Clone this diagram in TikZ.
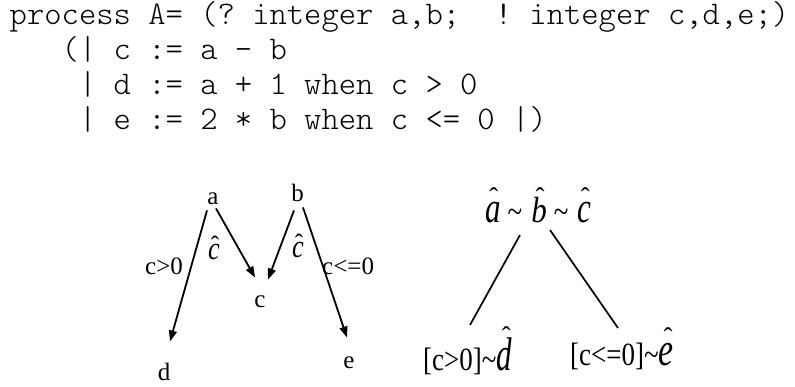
\documentclass[tikz,border=0pt]{standalone}
\usepackage{fontspec}
\setmainfont{Liberation Serif}
\usepackage{graphicx}
\usetikzlibrary{arrows.meta,calc}
% italic letter (scaled #5 wide, #4 tall) with a raised circumflex whose top is at #2, shifted by #3
\newcommand\hatit[5]{%
  \setbox0\hbox{\scalebox{#5}[#4]{\itshape #1}}%
  \setbox2\hbox{\upshape\char"02C6}%
  \leavevmode\rlap{\kern#3\hbox to\wd0{\hss\raisebox{\dimexpr#2-\ht2\relax}[0pt][0pt]{\copy2}\hss}}\copy0}
\newcommand\upst[1]{\scalebox{1}[1.2]{#1}}
\begin{document}
\begin{tikzpicture}[x=1pt,y=-1pt,
  code/.style={anchor=base west,inner sep=0pt,font=\fontsize{33}{40}\selectfont\ttfamily\fontseries{l}\selectfont\frenchspacing},
  lbl/.style={anchor=base,inner sep=0pt,font=\fontsize{25}{30}\selectfont},
  rt/.style={anchor=base west,inner sep=0pt,font=\fontsize{27}{32}\selectfont},
  arr/.style={-{Triangle[length=11pt,width=8pt]},line width=1.8pt},
  ln/.style={line width=1.7pt}]
\useasboundingbox (0,0) rectangle (795,387);
% code
\node[code] (l1) at (9.5,24.5) {process A= (? integer a,b;\ \ ! integer c,d,e;)};
\node[code] (l2) at (61.5,59.5) {(| c := a - b};
\node[code] (l3) at (78.8,94.5) {| d := a + 1 when c > 0};
\node[code] (l4) at (78.8,130) {| e := 2 * b when c <= 0 |)};
% left graph
\node[lbl] (a) at (213,205) {a};
\node[lbl] (b) at (297.5,202) {b};
\node[lbl] (c) at (260,308) {c};
\node[lbl] (d) at (164,380) {d};
\node[lbl] (e) at (349,368) {e};
\node[lbl,anchor=base west] (gt) at (145,275) {c>0};
\node[lbl] (h1) at (214,260) {\hatit{c}{24pt}{1pt}{1.3}{1.05}};
\node[lbl] (h2) at (298,258) {\hatit{c}{24pt}{1pt}{1.3}{1.05}};
\node[lbl,anchor=base west] (le) at (322,275) {c<=0};
\draw[arr] ($(a.south)+(-6,5)$) -- ($(d.north)+(6,-21)$);
\draw[arr] ($(a.south)+(3,3)$) -- ($(c.north)+(-5,-18.5)$);
\draw[arr] ($(b.south)+(-3.5,8)$) -- ($(c.north)+(8,-16.5)$);
\draw[arr] ($(b.south)+(5.5,5)$) -- ($(e.north)+(-2,-18.5)$);
% right graph
\node[rt] (top) at (485,222.5) {\hatit{a}{34.5pt}{1pt}{1.6}{1.15}\hspace{7pt}\upst{\textasciitilde}\hspace{9pt}\hatit{b}{34.5pt}{1pt}{1.35}{1.15}\hspace{7pt}\upst{\textasciitilde}\hspace{9pt}\hatit{c}{34.5pt}{1pt}{1.6}{1.15}};
\node[rt] (bl) at (423,370) {\upst{[c>0]\textasciitilde}\hatit{d}{43pt}{2pt}{1.75}{1.15}};
\node[rt] (br) at (570,365) {\upst{[c<=0]\textasciitilde}\hatit{e}{37pt}{2pt}{1.75}{1.25}};
\draw[ln] ($(top.base west)+(35,12.5)$) -- ($(bl.base west)+(47,-45)$);
\draw[ln] ($(top.base west)+(65,7.5)$) -- ($(br.base west)+(48,-37)$);
\end{tikzpicture}
\end{document}
